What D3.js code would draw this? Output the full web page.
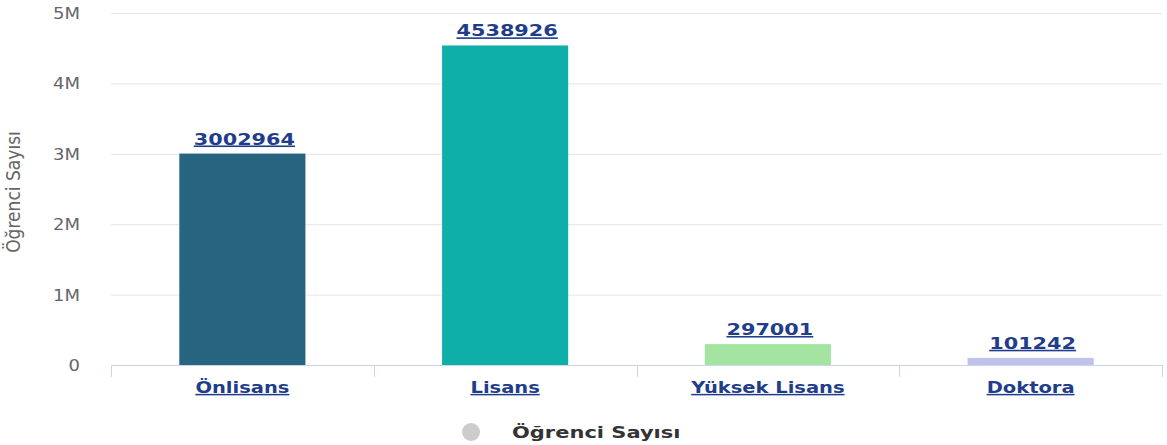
<!DOCTYPE html>
<html>
<head>
<meta charset="utf-8">
<script src="https://cdn.jsdelivr.net/npm/d3@7"></script>
<style>
  body { margin: 0; background: #fff; }
  text { font-family: "DejaVu Sans", Verdana, sans-serif; }
</style>
</head>
<body>
<div id="chart"></div>
<script>
// chart data
const categories = ["Önlisans", "Lisans", "Yüksek Lisans", "Doktora"];
const values = [3002964, 4538926, 297001, 101242];
const barColors = ["#27647f", "#0fafa9", "#a3e4a0", "#c1c2eb"];
const yTicks = [0, 1000000, 2000000, 3000000, 4000000, 5000000];
const yTickLabels = ["0", "1M", "2M", "3M", "4M", "5M"];
const seriesName = "Öğrenci Sayısı";

const W = 1167, H = 445;
const plot = {left: 111, right: 1162, top: 13, bottom: 365};
const stretch = 1.3; // the reference text is wide, stretch horizontally

const svg = d3.select("#chart").append("svg")
    .attr("width", W).attr("height", H);

const x = d3.scaleBand()
    .domain(categories)
    .range([plot.left, plot.right])
    .padding(0);

const y = d3.scaleLinear()
    .domain([0, 5000000])
    .range([plot.bottom, plot.top]);

// grid lines
svg.append("g").selectAll("line")
    .data(yTicks.slice(1))
    .enter().append("line")
    .attr("x1", plot.left).attr("x2", plot.right)
    .attr("y1", d => y(d) + 0.5).attr("y2", d => y(d) + 0.5)
    .attr("stroke", "#e6e6e6");

// y tick labels
yTicks.forEach((t, i) => {
    svg.append("g")
        .attr("transform", `translate(80,${y(t) + 6}) scale(1.2,1)`)
        .append("text")
        .attr("text-anchor", "end")
        .attr("fill", "#666")
        .style("font-size", "15px")
        .text(yTickLabels[i]);
});

// y axis title
svg.append("g")
    .attr("transform", `translate(20,${(plot.top + plot.bottom) / 2 + 3}) rotate(-90)`)
    .append("text")
    .attr("text-anchor", "middle")
    .attr("fill", "#666")
    .style("font-family", "'DejaVu Sans Condensed', 'Liberation Sans Narrow', sans-serif")
    .style("font-size", "19px")
    .text(seriesName);

// x axis line and ticks
const xAxis = svg.append("g");
xAxis.append("line")
    .attr("x1", plot.left).attr("x2", plot.right)
    .attr("y1", plot.bottom + 0.5).attr("y2", plot.bottom + 0.5)
    .attr("stroke", "#ccd6eb");
const tickPos = categories.map(c => x(c)).concat([x(categories[categories.length - 1]) + x.bandwidth()]);
xAxis.selectAll("line.tick")
    .data(tickPos)
    .enter().append("line")
    .attr("class", "tick")
    .attr("x1", d => Math.round(d) + 0.5).attr("x2", d => Math.round(d) + 0.5)
    .attr("y1", plot.bottom).attr("y2", plot.bottom + 12)
    .attr("stroke", "#ccd6eb");

// bars
const barW = x.bandwidth() * 0.48;
svg.append("g").selectAll("rect")
    .data(categories)
    .enter().append("rect")
    .attr("x", d => x(d) + (x.bandwidth() - barW) / 2)
    .attr("width", barW)
    .attr("y", (d, i) => y(values[i]))
    .attr("height", (d, i) => plot.bottom - y(values[i]))
    .attr("fill", (d, i) => barColors[i]);

// data labels
categories.forEach((c, i) => {
    svg.append("g")
        .attr("transform", `translate(${x(c) + x.bandwidth() / 2 + 2},${y(values[i]) - 9}) scale(${stretch},1)`)
        .append("text")
        .attr("text-anchor", "middle")
        .attr("fill", "#1f3d8a")
        .style("font-size", "16px")
        .style("font-weight", "bold")
        .style("text-decoration", "underline")
        .text(values[i]);
});

// category labels
categories.forEach(c => {
    svg.append("g")
        .attr("transform", `translate(${x(c) + x.bandwidth() / 2},${plot.bottom + 28}) scale(${stretch},1)`)
        .append("text")
        .attr("text-anchor", "middle")
        .attr("fill", "#1f3d8a")
        .style("font-size", "15px")
        .style("font-weight", "bold")
        .style("text-decoration", "underline")
        .text(c);
});

// legend
const legend = svg.append("g");
legend.append("circle")
    .attr("cx", 471).attr("cy", 432).attr("r", 9)
    .attr("fill", "#cccccc");
legend.append("g")
    .attr("transform", `translate(512,438) scale(1.4,1)`)
    .append("text")
    .attr("fill", "#333")
    .style("font-size", "15px")
    .style("font-weight", "bold")
    .text(seriesName);
</script>
</body>
</html>
